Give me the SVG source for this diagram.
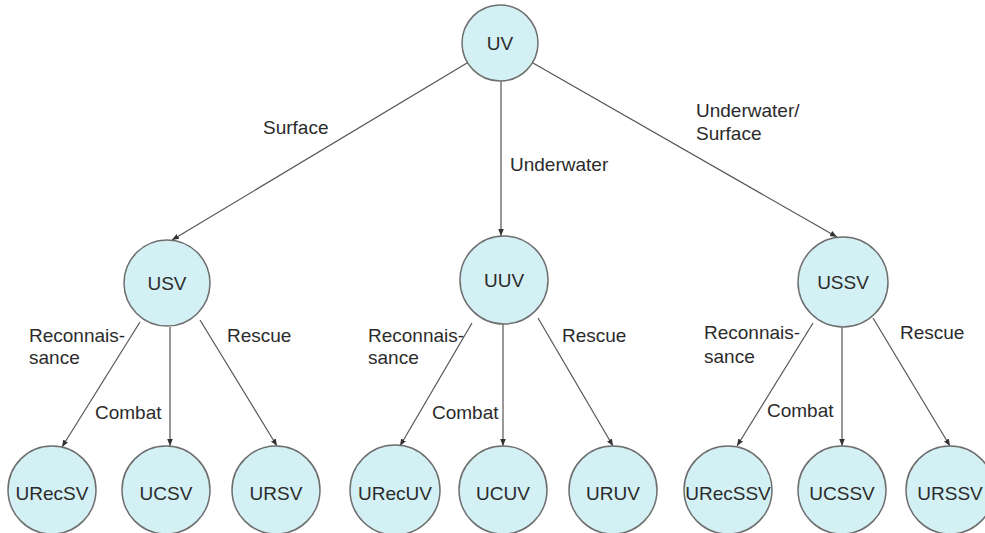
<svg xmlns="http://www.w3.org/2000/svg" width="985" height="533" viewBox="0 0 985 533">
<style>
.n{fill:#d3f0f4;stroke:#6e6e6e;stroke-width:1.5}
.t{font-family:"Liberation Sans",Arial,sans-serif;font-size:19px;fill:#2b2b2b}
.c{text-anchor:middle}
.e{stroke:#555;stroke-width:1.2;fill:none;marker-end:url(#ah)}
</style>
<defs>
<marker id="ah" viewBox="0 0 10 10" refX="10" refY="5" markerWidth="7" markerHeight="7" markerUnits="userSpaceOnUse" orient="auto">
<path d="M0,1 L10,5 L0,9 z" fill="#333"/>
</marker>
</defs>
<rect width="985" height="533" fill="#ffffff"/>
<g id="connectors">
<line class="e" x1="467" y1="63" x2="172" y2="240"/>
<line class="e" x1="501" y1="81" x2="501" y2="236"/>
<line class="e" x1="533" y1="63" x2="837" y2="237"/>
<line class="e" x1="140" y1="322" x2="62" y2="447"/>
<line class="e" x1="170" y1="327" x2="170" y2="446"/>
<line class="e" x1="200" y1="320" x2="277" y2="446"/>
<line class="e" x1="472" y1="323" x2="400" y2="446"/>
<line class="e" x1="503" y1="323" x2="503" y2="446"/>
<line class="e" x1="538" y1="318" x2="613" y2="446"/>
<line class="e" x1="813" y1="323" x2="737" y2="446"/>
<line class="e" x1="842" y1="326" x2="842" y2="446"/>
<line class="e" x1="873" y1="318" x2="950" y2="446"/>
</g>
<g id="edge-labels">
<text class="t" x="263" y="134">Surface</text>
<text class="t" x="510" y="171">Underwater</text>
<text class="t" x="696" y="117">Underwater/</text>
<text class="t" x="696" y="140">Surface</text>
<text class="t" x="29" y="342">Reconnais-</text>
<text class="t" x="29" y="364">sance</text>
<text class="t" x="95" y="419">Combat</text>
<text class="t" x="227" y="342">Rescue</text>
<text class="t" x="368" y="342">Reconnais-</text>
<text class="t" x="368" y="364">sance</text>
<text class="t" x="432" y="419">Combat</text>
<text class="t" x="562" y="342">Rescue</text>
<text class="t" x="704" y="339">Reconnais-</text>
<text class="t" x="704" y="363">sance</text>
<text class="t" x="767" y="417">Combat</text>
<text class="t" x="900" y="339">Rescue</text>
</g>
<g id="UV"><circle class="n" cx="500" cy="43" r="38"/><text class="t c" x="500" y="50">UV</text></g>
<g id="USV"><circle class="n" cx="167" cy="283" r="43"/><text class="t c" x="167" y="290">USV</text></g>
<g id="UUV"><circle class="n" cx="504" cy="280" r="44"/><text class="t c" x="504" y="287">UUV</text></g>
<g id="USSV"><circle class="n" cx="843" cy="282" r="45"/><text class="t c" x="843" y="289">USSV</text></g>
<g id="URecSV"><circle class="n" cx="52" cy="490" r="44"/><text class="t c" x="52" y="500">URecSV</text></g>
<g id="UCSV"><circle class="n" cx="166" cy="490" r="44"/><text class="t c" x="166" y="500">UCSV</text></g>
<g id="URSV"><circle class="n" cx="276" cy="490" r="44"/><text class="t c" x="276" y="500">URSV</text></g>
<g id="URecUV"><circle class="n" cx="395" cy="490" r="45"/><text class="t c" x="395" y="500">URecUV</text></g>
<g id="UCUV"><circle class="n" cx="503" cy="490" r="44"/><text class="t c" x="503" y="500">UCUV</text></g>
<g id="URUV"><circle class="n" cx="613" cy="490" r="44"/><text class="t c" x="613" y="500">URUV</text></g>
<g id="URecSSV"><circle class="n" cx="728" cy="490" r="44"/><text class="t c" x="728" y="500">URecSSV</text></g>
<g id="UCSSV"><circle class="n" cx="842" cy="490" r="44"/><text class="t c" x="842" y="500">UCSSV</text></g>
<g id="URSSV"><circle class="n" cx="950" cy="490" r="44"/><text class="t c" x="950" y="500">URSSV</text></g>
</svg>
